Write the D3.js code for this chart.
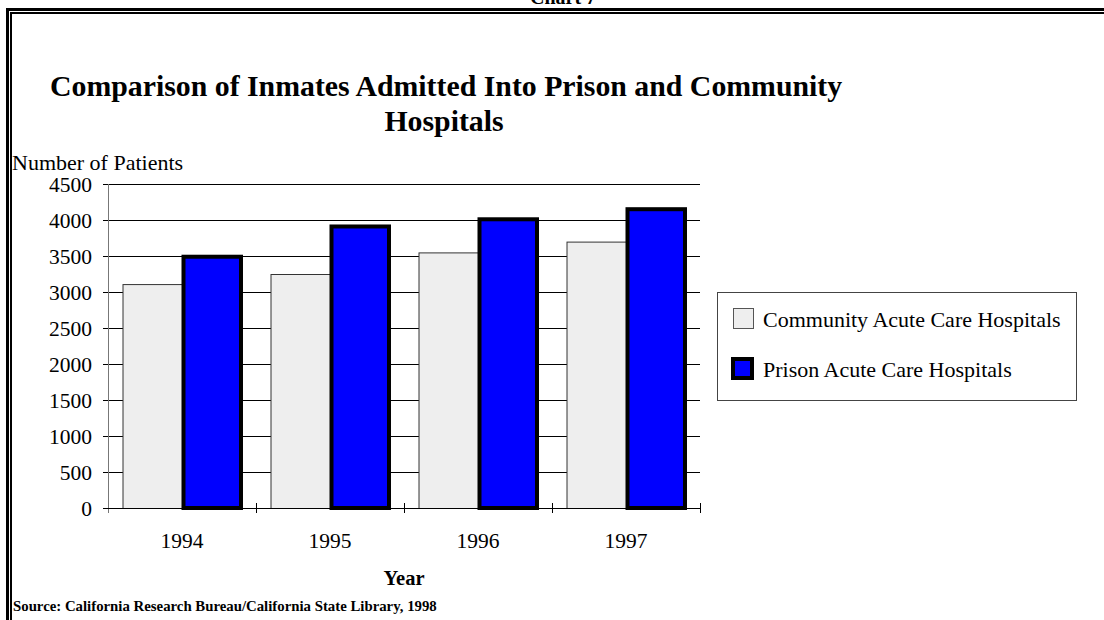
<!DOCTYPE html>
<html><head><meta charset="utf-8">
<script src="https://cdn.jsdelivr.net/npm/d3@7"></script>
<style>html,body{margin:0;padding:0;background:#fff;overflow:hidden}svg{display:block}text{font-family:"Liberation Serif","Times New Roman",serif}</style>
</head><body>
<script>
const years = ["1994","1995","1996","1997"];
const seriesNames = ["Community Acute Care Hospitals","Prison Acute Care Hospitals"];
const community = [3110, 3250, 3550, 3700];
const prison = [3490, 3910, 4010, 4150];
const yTicks = [0,500,1000,1500,2000,2500,3000,3500,4000,4500];

const W=1104,H=620;
const svg=d3.select("body").append("svg").attr("width",W).attr("height",H);

// frame
svg.append("rect").attr("x",7.5).attr("y",9.5).attr("width",1200).attr("height",800).attr("fill","none").attr("stroke","#000").attr("stroke-width",3);
svg.append("rect").attr("x",11).attr("y",13).attr("width",1200).attr("height",800).attr("fill","none").attr("stroke","#000").attr("stroke-width",2);

svg.append("text").attr("x",563).attr("y",4).attr("text-anchor","middle").attr("font-weight","bold").attr("font-size",20).text("Chart 7");

svg.append("text").attr("x",50).attr("y",96).attr("font-weight","bold").attr("font-size",29.8).text("Comparison of Inmates Admitted Into Prison and Community");
svg.append("text").attr("x",444).attr("y",131).attr("text-anchor","middle").attr("font-weight","bold").attr("font-size",29.8).text("Hospitals");

svg.append("text").attr("x",12).attr("y",170).attr("font-size",22).text("Number of Patients");

const x0=d3.scaleBand().domain(years).range([108,700]).paddingInner(0.196).paddingOuter(0.098);
const x1=d3.scaleBand().domain(seriesNames).range([0,x0.bandwidth()]);
const y=d3.scaleLinear().domain([0,4500]).range([508,184]);

// gridlines
svg.append("g").selectAll("line").data(yTicks.filter(d=>d>0)).join("line")
  .attr("x1",103).attr("x2",700).attr("y1",d=>y(d)+0.5).attr("y2",d=>y(d)+0.5).attr("stroke","#000").attr("stroke-width",1);
// y axis
svg.append("line").attr("x1",108.5).attr("x2",108.5).attr("y1",184).attr("y2",513).attr("stroke","#777").attr("stroke-width",1);
svg.append("g").selectAll("text").data(yTicks).join("text")
  .attr("x",92).attr("y",d=>y(d)+7.5).attr("text-anchor","end").attr("font-size",21.5).text(d=>d);

const g=svg.append("g");
years.forEach((yr,i)=>{
  g.append("rect").attr("x",x0(yr)+x1(seriesNames[0])+0.5).attr("y",y(community[i])+0.5)
    .attr("width",x1.bandwidth()).attr("height",y(0)-y(community[i]))
    .attr("fill","#eeeeee").attr("stroke","#333").attr("stroke-width",1);
});
// x axis baseline + ticks
svg.append("line").attr("x1",103).attr("x2",700).attr("y1",508.5).attr("y2",508.5).attr("stroke","#000").attr("stroke-width",1.2);
const bounds=[...years.map(yr=>x0(yr)-x0.step()*x0.paddingInner()/2), 700];
svg.append("g").selectAll("line").data(bounds.slice(1)).join("line")
  .attr("x1",d=>Math.round(d)+0.5).attr("x2",d=>Math.round(d)+0.5).attr("y1",503).attr("y2",513).attr("stroke","#000");
years.forEach((yr,i)=>{
  g.append("rect").attr("x",x0(yr)+x1(seriesNames[1])+1.5).attr("y",y(prison[i]))
    .attr("width",x1.bandwidth()-2).attr("height",y(0)-y(prison[i]))
    .attr("fill","#0000ff").attr("stroke","#000").attr("stroke-width",4);
});
svg.append("g").selectAll("text").data(years).join("text")
  .attr("x",d=>x0(d)+x0.bandwidth()/2).attr("y",548).attr("text-anchor","middle").attr("font-size",21.5).text(d=>d);

svg.append("text").attr("x",404).attr("y",585).attr("text-anchor","middle").attr("font-weight","bold").attr("font-size",20.5).text("Year");
svg.append("text").attr("x",13).attr("y",611).attr("font-weight","bold").attr("font-size",14.8).text("Source: California Research Bureau/California State Library, 1998");

// legend
const lg=svg.append("g");
lg.append("rect").attr("x",717.5).attr("y",292.5).attr("width",359).attr("height",108).attr("fill","#fff").attr("stroke","#444");
lg.append("rect").attr("x",733.5).attr("y",308.5).attr("width",20).attr("height",20).attr("fill","#eeeeee").attr("stroke","#555");
lg.append("rect").attr("x",733).attr("y",359).attr("width",19).attr("height",19).attr("fill","#0000ff").attr("stroke","#000").attr("stroke-width",4);
lg.append("text").attr("x",763).attr("y",327).attr("font-size",22).text(seriesNames[0]);
lg.append("text").attr("x",763).attr("y",377).attr("font-size",22).text(seriesNames[1]);
</script>
</body></html>
